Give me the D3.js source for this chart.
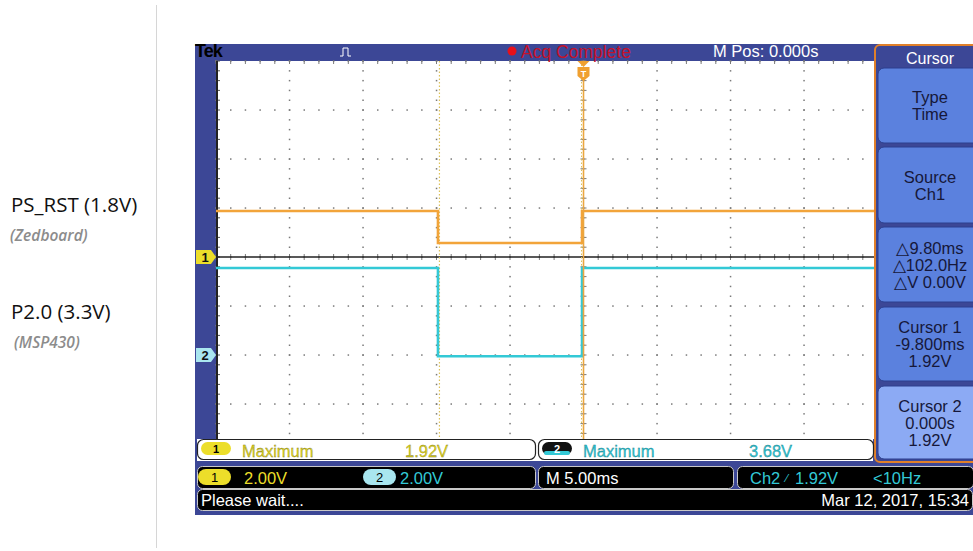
<!DOCTYPE html>
<html>
<head>
<meta charset="utf-8">
<script src="https://cdn.jsdelivr.net/npm/d3@7"></script>
<style>
  body { margin: 0; background: #fff; }
  svg text { font-family: "Liberation Sans", Arial, sans-serif; }
</style>
</head>
<body>
<svg id="chart" width="973" height="551"></svg>
<script>
// # DATA
// # ------------------------------
var time_ms   = [-25, -9.9, -9.9, -0.1, -0.1, 25];
var ch1_volts = [1.88, 1.88, 0.57, 0.57, 1.88, 1.88];
var ch2_volts = [3.55, 3.55, -0.05, -0.05, 3.55, 3.55];

var ch1_offset_div = 0;
var ch2_offset_div = -2;
var volts_per_div  = 2;
var cursor_ms      = [-9.8, 0];

var side_labels    = [["PS_RST (1.8V)", "(Zedboard)"], ["P2.0 (3.3V)", "(MSP430)"]];
var menu_buttons   = [["Type", "Time"], ["Source", "Ch1"], ["\u25B39.80ms", "\u25B3102.0Hz", "\u25B3V 0.00V"],
                      ["Cursor 1", "-9.800ms", "1.92V"], ["Cursor 2", "0.000s", "1.92V"]];

// # COLORS
// # ------------------------------
var blue_frame = "#3c4796";
var orange     = "#f2a43a";
var cyan       = "#33c9d6";
var yellow     = "#ecde2a";
var grid_col   = "#7a7a7a";

var svg = d3.select("#chart");

// # SCALES
// # ------------------------------
var x = d3.scaleLinear().domain([-25, 25]).range([216, 951]);
var y = d3.scaleLinear().domain([-4, 4]).range([453, 61]);

var plot = {left: 216, right: 874, top: 61, bottom: 439};

// ## left labels
// # ------------------------------
svg.append("line").attr("x1", 156.5).attr("x2", 156.5).attr("y1", 5).attr("y2", 548)
   .attr("stroke", "#d6d6d6").attr("stroke-width", 1);

var lab_y = [212, 319];
side_labels.forEach(function(d, i) {
  svg.append("text").attr("x", 11).attr("y", lab_y[i])
     .style("font-family", "'Open Sans', sans-serif").style("font-size", "20.5px").attr("fill", "#111")
     .text(d[0]);
  svg.append("text").attr("x", i == 0 ? 10 : 14).attr("y", lab_y[i] + 29)
     .style("font-family", "'Open Sans', sans-serif").style("font-size", "15.5px")
     .style("font-style", "italic").style("font-weight", "600").attr("fill", "#8c8c8c")
     .text(d[1]);
});

// ## scope frame
// # ------------------------------
svg.append("rect").attr("x", 195).attr("y", 44).attr("width", 778).attr("height", 471).attr("fill", blue_frame);
svg.append("rect").attr("x", plot.left).attr("y", plot.top)
   .attr("width", plot.right - plot.left).attr("height", plot.bottom - plot.top).attr("fill", "#fff");

// ## graticule
// # ------------------------------
var grid = svg.append("g");
var minor_x = d3.range(-25, 25.001, 1);
var minor_y = d3.range(-4, 4.001, 0.2);
var major_x = d3.range(-25, 25.001, 5);
var major_y = d3.range(-4, 4.001, 1);

var inPlotX = function(v) { return x(v) >= plot.left && x(v) <= plot.right; };

// dots along major rows
major_y.forEach(function(r) {
  minor_x.filter(inPlotX).forEach(function(c) {
    grid.append("rect").attr("x", x(c) - 0.7).attr("y", y(r) - 0.7)
        .attr("width", 1.5).attr("height", 1.5).attr("fill", grid_col);
  });
});
// dots along major columns
major_x.filter(inPlotX).forEach(function(c) {
  minor_y.forEach(function(r) {
    grid.append("rect").attr("x", x(c) - 0.7).attr("y", y(r) - 0.7)
        .attr("width", 1.5).attr("height", 1.5).attr("fill", grid_col);
  });
});
// center ticks
minor_x.filter(inPlotX).forEach(function(c) {
  grid.append("line").attr("x1", x(c)).attr("x2", x(c)).attr("y1", y(0) - 3).attr("y2", y(0) + 3)
      .attr("stroke", grid_col).attr("stroke-width", 1);
  grid.append("line").attr("x1", x(c)).attr("x2", x(c)).attr("y1", plot.top).attr("y2", plot.top + 3)
      .attr("stroke", grid_col).attr("stroke-width", 1);
});
minor_y.forEach(function(r) {
  grid.append("line").attr("x1", x(0) - 3).attr("x2", x(0) + 3).attr("y1", y(r)).attr("y2", y(r))
      .attr("stroke", grid_col).attr("stroke-width", 1);
  grid.append("line").attr("x1", plot.left).attr("x2", plot.left + 4).attr("y1", y(r)).attr("y2", y(r))
      .attr("stroke", "#555").attr("stroke-width", 1);
});
grid.append("line").attr("x1", plot.left + 1).attr("x2", plot.left + 1).attr("y1", plot.top).attr("y2", plot.bottom)
    .attr("stroke", "#222").attr("stroke-width", 2);

// ch1 reference line
svg.append("line").attr("x1", plot.left).attr("x2", plot.right)
   .attr("y1", y(ch1_offset_div)).attr("y2", y(ch1_offset_div))
   .attr("stroke", "#222").attr("stroke-width", 1.3);

// ## cursors
// # ------------------------------
svg.append("line").attr("x1", x(cursor_ms[0])).attr("x2", x(cursor_ms[0]))
   .attr("y1", plot.top).attr("y2", plot.bottom)
   .attr("stroke", "#dcc25a").attr("stroke-width", 1.2).attr("stroke-dasharray", "1.5,2");
svg.append("line").attr("x1", x(cursor_ms[1]) - 2).attr("x2", x(cursor_ms[1]) - 2)
   .attr("y1", plot.top).attr("y2", plot.bottom)
   .attr("stroke", "#dcc25a").attr("stroke-width", 1).attr("stroke-dasharray", "1.5,2");

// ## traces
// # ------------------------------
svg.append("clipPath").attr("id", "plot-clip").append("rect")
   .attr("x", plot.left).attr("y", plot.top).attr("width", plot.right - plot.left).attr("height", plot.bottom - plot.top);

var line_ch1 = d3.line().x(function(d) { return x(d[0]); })
                        .y(function(d) { return y(d[1] / volts_per_div + ch1_offset_div); });
var line_ch2 = d3.line().x(function(d) { return x(d[0]); })
                        .y(function(d) { return y(d[1] / volts_per_div + ch2_offset_div); });

var traces = svg.append("g").attr("clip-path", "url(#plot-clip)");
traces.append("path").datum(d3.zip(time_ms, ch1_volts)).attr("d", line_ch1)
      .attr("fill", "none").attr("stroke", orange).attr("stroke-width", 2.6);
traces.append("path").datum(d3.zip(time_ms, ch2_volts)).attr("d", line_ch2)
      .attr("fill", "none").attr("stroke", cyan).attr("stroke-width", 2.6);

// cursor 2 solid (active)
svg.append("line").attr("x1", x(cursor_ms[1])).attr("x2", x(cursor_ms[1]))
   .attr("y1", 76).attr("y2", plot.bottom)
   .attr("stroke", "#eaa640").attr("stroke-width", 1.6);

// trigger marker
svg.append("path").attr("d", "M" + (x(0) - 6) + ",61 L" + (x(0) + 6) + ",61 L" + x(0) + ",67 Z").attr("fill", "#f0a030");
svg.append("path")
   .attr("d", "M" + (x(0) - 6) + ",67 h12 v9 l-6,5 l-6,-5 Z").attr("fill", "#f0a030");
svg.append("text").attr("x", x(0)).attr("y", 77).attr("text-anchor", "middle")
   .style("font-size", "9px").style("font-weight", "bold").attr("fill", "#fff").text("T");

// ## top bar
// # ------------------------------
svg.append("text").attr("x", 195).attr("y", 57).style("font-size", "18px").style("font-weight", "bold")
   .style("letter-spacing", "-1px").attr("fill", "#000").text("Tek");
svg.append("path").attr("d", "M340,56 h3 v-8 h5 v8 h3").attr("fill", "none").attr("stroke", "#fff").attr("stroke-width", 1);
svg.append("circle").attr("cx", 512).attr("cy", 51).attr("r", 4.5).attr("fill", "#e8101a");
svg.append("text").attr("x", 521).attr("y", 58).style("font-size", "17.5px").attr("fill", "#c4122a").text("Acq Complete");
svg.append("text").attr("x", 713).attr("y", 57).style("font-size", "16.5px").attr("fill", "#fff").text("M Pos: 0.000s");

// ## channel markers
// # ------------------------------
var marker = function(yy, col, label) {
  svg.append("path").attr("d", "M196," + (yy - 7) + " h15 l5,7 l-5,7 h-15 Z").attr("fill", col);
  svg.append("text").attr("x", 205).attr("y", yy + 5).attr("text-anchor", "middle")
     .style("font-size", "13px").style("font-weight", "bold").attr("fill", "#111").text(label);
};
marker(y(ch1_offset_div), yellow, "1");
marker(y(ch2_offset_div), "#a9e6ef", "2");

// ## side menu
// # ------------------------------
svg.append("rect").attr("x", 875).attr("y", 45).attr("width", 110).attr("height", 417)
   .attr("rx", 5).attr("fill", blue_frame).attr("stroke", "#e0802a").attr("stroke-width", 2);
svg.append("text").attr("x", 930).attr("y", 64).attr("text-anchor", "middle")
   .style("font-size", "16px").attr("fill", "#fff").text("Cursor");

var btn_y = [68, 147, 227, 307, 386];
var btn_h = [75, 76, 75, 74, 73];
menu_buttons.forEach(function(lines, i) {
  svg.append("rect").attr("x", 878).attr("y", btn_y[i]).attr("width", 105).attr("height", btn_h[i])
     .attr("rx", 6).attr("fill", i == 4 ? "#8caaf4" : "#5b81de").attr("stroke", "#2c3f8e").attr("stroke-width", 1);
  var cy = btn_y[i] + btn_h[i] / 2;
  var start = cy - (lines.length - 1) * 17 / 2 + 6;
  lines.forEach(function(t, j) {
    svg.append("text").attr("x", 930).attr("y", start + j * 17).attr("text-anchor", "middle")
       .style("font-size", "16.5px").attr("fill", "#16183a").text(t);
  });
});

// ## measurement row
// # ------------------------------
svg.append("rect").attr("x", 197).attr("y", 439).attr("width", 676).attr("height", 22).attr("fill", "#fff");
var meas = [{x: 197, w: 338, col: "#e2d61a", edge: "#7a7420", badge: yellow, badge_txt: "#000", label: "1", val: "1.92V", vx: 405},
            {x: 538, w: 335, col: "#2cc4d2", edge: "#1f7c86", badge: "#111", badge_txt: "#fff", label: "2", val: "3.68V", vx: 749}];
meas.forEach(function(m) {
  svg.append("rect").attr("x", m.x + 0.5).attr("y", 439.5).attr("width", m.w).attr("height", 20)
     .attr("rx", 6).attr("fill", "#fff").attr("stroke", "#222").attr("stroke-width", 1.2);
  svg.append("rect").attr("x", m.x + 4).attr("y", 442).attr("width", 30).attr("height", 13).attr("rx", 6.5).attr("fill", m.badge);
  if (m.label == "2") {
    svg.append("rect").attr("x", m.x + 6).attr("y", 451).attr("width", 26).attr("height", 4).attr("rx", 2).attr("fill", cyan);
  }
  svg.append("text").attr("x", m.x + 19).attr("y", 453).attr("text-anchor", "middle")
     .style("font-size", "11px").style("font-weight", "bold").attr("fill", m.badge_txt).text(m.label);
  svg.append("text").attr("x", m.x + 45).attr("y", 457).style("font-size", "16.5px").attr("fill", m.col)
     .attr("stroke", m.edge).attr("stroke-width", 0.3).text("Maximum");
  svg.append("text").attr("x", m.vx).attr("y", 457).style("font-size", "16.5px").attr("fill", m.col)
     .attr("stroke", m.edge).attr("stroke-width", 0.3).text(m.val);
});

// ## status rows
// # ------------------------------
var box = function(x0, y0, w, h) {
  svg.append("rect").attr("x", x0 + 0.5).attr("y", y0 + 0.5).attr("width", w).attr("height", h)
     .attr("rx", 5).attr("fill", "#000").attr("stroke", "#c8c8c8").attr("stroke-width", 1);
};
box(197, 466, 338, 22);
box(538, 466, 195, 22);
box(737, 466, 236, 22);
box(197, 489, 775, 21);

var pill = function(x0, col, label) {
  svg.append("rect").attr("x", x0).attr("y", 469).attr("width", 33).attr("height", 16).attr("rx", 8).attr("fill", col);
  svg.append("text").attr("x", x0 + 16.5).attr("y", 482).attr("text-anchor", "middle")
     .style("font-size", "13px").attr("fill", "#000").text(label);
};
pill(198, yellow, "1");
pill(363, "#a9e6ef", "2");

var status_text = [
  {x: 244, y: 484, col: yellow, t: "2.00V"},
  {x: 400, y: 484, col: cyan, t: "2.00V"},
  {x: 546, y: 484, col: "#fff", t: "M 5.00ms"},
  {x: 750, y: 484, col: cyan, t: "Ch2"},
  {x: 786, y: 482, col: cyan, t: "\u2044", size: "11px"},
  {x: 795, y: 484, col: cyan, t: "1.92V"},
  {x: 873, y: 484, col: cyan, t: "<10Hz"},
  {x: 201, y: 506, col: "#fff", t: "Please wait...."}
];
status_text.forEach(function(s) {
  svg.append("text").attr("x", s.x).attr("y", s.y).style("font-size", s.size || "16.5px").attr("fill", s.col).text(s.t);
});
svg.append("text").attr("x", 969).attr("y", 506).attr("text-anchor", "end")
   .style("font-size", "16.5px").attr("fill", "#fff").text("Mar 12, 2017, 15:34");
</script>
</body>
</html>
